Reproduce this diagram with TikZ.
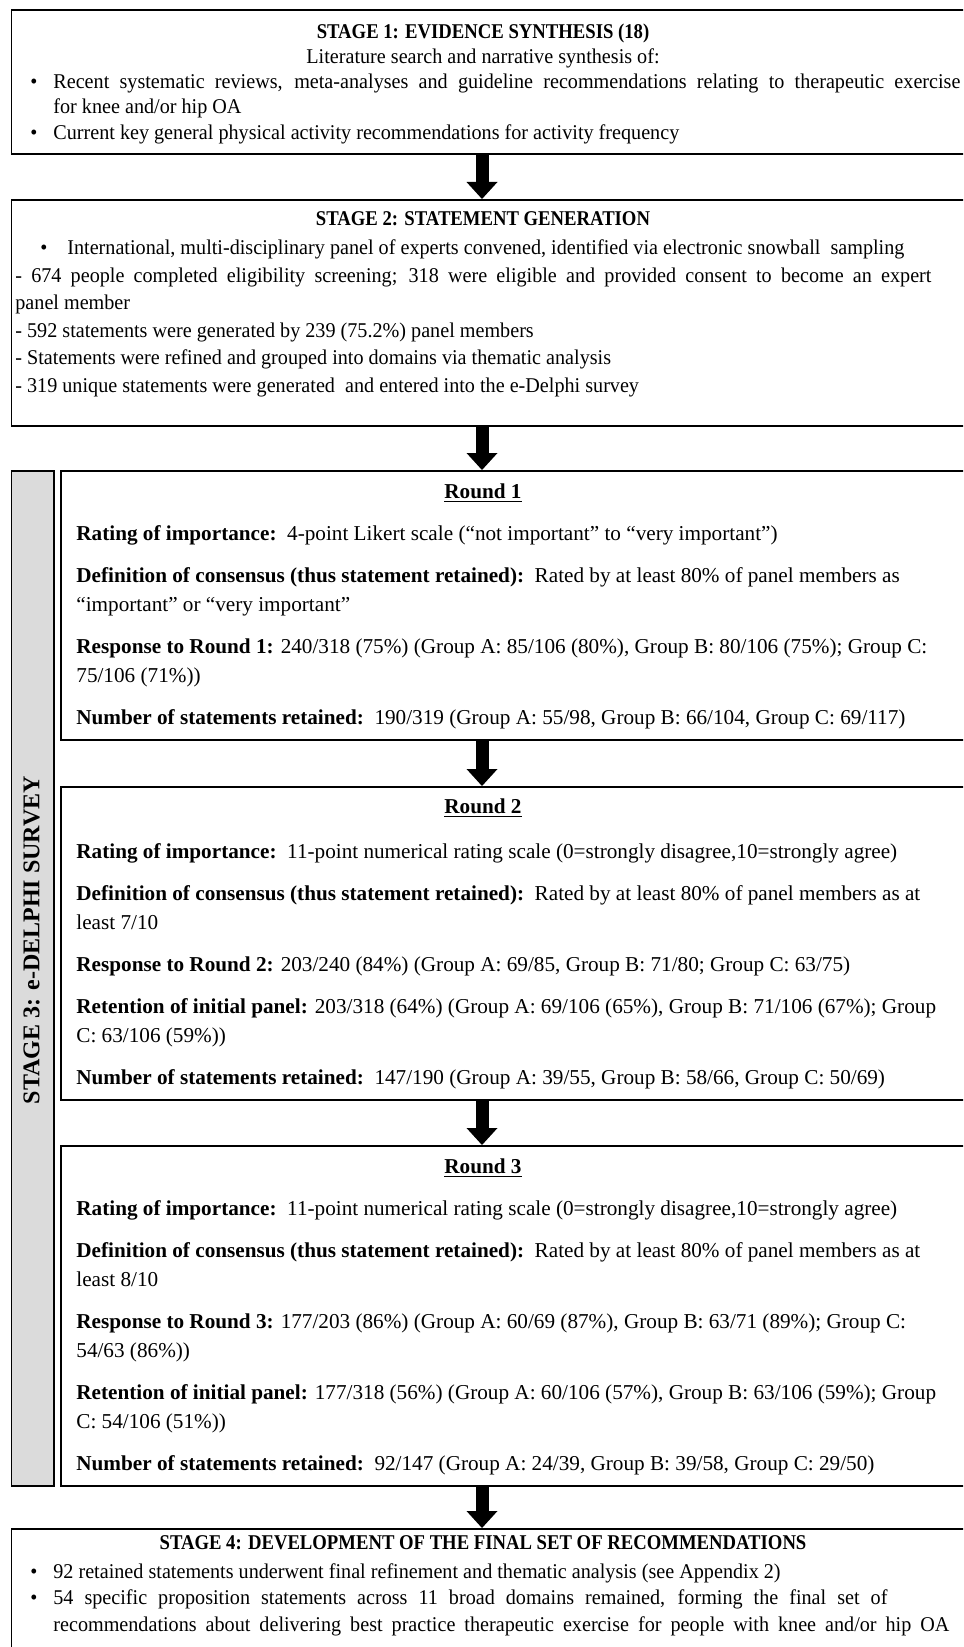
\documentclass[tikz,border=0pt]{standalone}
\usepackage{fontspec}
\setmainfont{Liberation Serif}
\newfontfamily\stagefont[FakeStretch=0.96]{Liberation Serif}
\newfontfamily\headfont[FakeStretch=0.89]{Liberation Serif}
\usetikzlibrary{arrows.meta}
\definecolor{barfill}{gray}{0.86}
\newcommand{\bul}{\makebox[11.5pt][l]{\textbullet}}

\begin{document}
\begin{tikzpicture}[x=0.5pt,y=-0.5pt]
	\tikzstyle{frame} = [draw,line width=0.8pt,anchor=north west,inner sep=0pt]
	\tikzstyle{txt} = [inner sep=0pt,anchor=base,font=\fontsize{10.5}{12.75}\stagefont]
	\tikzstyle{heading} = [inner sep=0pt,anchor=base,font=\fontsize{10.5}{12.75}\headfont\bfseries]
	\tikzstyle{para} = [inner sep=0pt,align=left,anchor=base west,font=\fontsize{10.5}{12.75}\stagefont]
	\tikzstyle{roundtitle} = [inner sep=0pt,anchor=base,font=\fontsize{10.6}{12.75}\selectfont\bfseries]
	\tikzstyle{roundpara} = [para,font=\fontsize{10.6}{14.5}\selectfont]
	\tikzstyle{blockarrow} = [line width=6.5pt,-{Triangle[length=8.5pt,width=15.5pt,line width=0pt]}]
	
	\useasboundingbox (0,0) rectangle (963,1647);
	\clip (0,0) rectangle (963,1647);
	
	% boxes
	\node[frame,minimum width=479pt,minimum height=72pt] (s1) at (10.7,9) {};
	\node[frame,minimum width=479pt,minimum height=113pt] (s2) at (10.7,199) {};
	\node[frame,fill=barfill,minimum width=21.15pt,minimum height=507.5pt] (bar) at (10.7,470) {};
	\node[frame,minimum width=454pt,minimum height=134.5pt] (r1) at (60,470) {};
	\node[frame,minimum width=454pt,minimum height=156.5pt] (r2) at (60,786) {};
	\node[frame,minimum width=454pt,minimum height=170pt] (r3) at (60,1145) {};
	\node[frame,minimum width=479pt,minimum height=70pt] (s4) at (10.7,1528) {};
	
	% arrows
	\coordinate (ax) at (482,0);
	\draw[blockarrow] (s1.south -| ax) -- (s2.north -| ax);
	\draw[blockarrow] (s2.south -| ax) -- (r1.north -| ax);
	\draw[blockarrow] (r1.south -| ax) -- (r2.north -| ax);
	\draw[blockarrow] (r2.south -| ax) -- (r3.north -| ax);
	\draw[blockarrow] (r3.south -| ax) -- (s4.north -| ax);
	
	% stage 1
	\node[heading] (s1title) at (483,38.5) {STAGE 1: EVIDENCE SYNTHESIS (18)};
	\node[txt] (s1sub) at (483,63.5) {Literature search and narrative synthesis of:};
	\node[para] (s1list) at (30,139.5) {\bul\makebox[453.5pt][s]{Recent systematic reviews, meta-analyses and guideline recommendations relating to therapeutic exercise}\\
		\hspace*{11.5pt}for knee and/or hip OA\\
		\bul Current key general physical activity recommendations for activity frequency};
	
	% stage 2
	\node[heading] (s2title) at (483,225.5) {STAGE 2: STATEMENT GENERATION};
	\node[para,font=\fontsize{10.5}{13.8}\stagefont] (s2list) at (15,392.5) {\hspace*{12.5pt}\makebox[13.5pt][l]{\textbullet}International, multi-disciplinary panel of experts convened, identified via electronic snowball\ \ sampling\\
		\makebox[458pt][s]{- 674 people completed eligibility screening; 318 were eligible and provided consent to become an expert}\\
		panel member\\
		- 592 statements were generated by 239 (75.2\%) panel members\\
		- Statements were refined and grouped into domains via thematic analysis\\
		- 319 unique statements were generated\ \ and entered into the e-Delphi survey};
	
	% stage 3
	\node[inner sep=0pt,rotate=90,font=\fontsize{12}{14}\selectfont\bfseries] (s3label) at (31.5,940) {STAGE 3: e-DELPHI SURVEY};
	
	\node[roundtitle] (r1title) at (483,498.5) {\underline{Round 1}};
	\node[roundpara] (r1text) at (76,724.5) {\textbf{Rating of importance:}\ \ 4-point Likert scale (“not important” to “very important”)\\[6.5pt]
		\textbf{Definition of consensus (thus statement retained):}\ \ Rated by at least 80\% of panel members as\\
		“important” or “very important”\\[6.5pt]
		\textbf{Response to Round 1:} 240/318 (75\%) (Group A: 85/106 (80\%), Group B: 80/106 (75\%); Group C:\\
		75/106 (71\%))\\[6.5pt]
		\textbf{Number of statements retained:}\ \ 190/319 (Group A: 55/98, Group B: 66/104, Group C: 69/117)};
	
	\node[roundtitle] (r2title) at (483,813.5) {\underline{Round 2}};
	\node[roundpara] (r2text) at (76,1084.5) {\textbf{Rating of importance:}\ \ 11-point numerical rating scale (0=strongly disagree,10=strongly agree)\\[6.5pt]
		\textbf{Definition of consensus (thus statement retained):}\ \ Rated by at least 80\% of panel members as at\\
		least 7/10\\[6.5pt]
		\textbf{Response to Round 2:} 203/240 (84\%) (Group A: 69/85, Group B: 71/80; Group C: 63/75)\\[6.5pt]
		\textbf{Retention of initial panel:} 203/318 (64\%) (Group A: 69/106 (65\%), Group B: 71/106 (67\%); Group\\
		C: 63/106 (59\%))\\[6.5pt]
		\textbf{Number of statements retained:}\ \ 147/190 (Group A: 39/55, Group B: 58/66, Group C: 50/69)};
	
	\node[roundtitle] (r3title) at (483,1173.5) {\underline{Round 3}};
	\node[roundpara] (r3text) at (76,1470) {\textbf{Rating of importance:}\ \ 11-point numerical rating scale (0=strongly disagree,10=strongly agree)\\[6.5pt]
		\textbf{Definition of consensus (thus statement retained):}\ \ Rated by at least 80\% of panel members as at\\
		least 8/10\\[6.5pt]
		\textbf{Response to Round 3:} 177/203 (86\%) (Group A: 60/69 (87\%), Group B: 63/71 (89\%); Group C:\\
		54/63 (86\%))\\[6.5pt]
		\textbf{Retention of initial panel:} 177/318 (56\%) (Group A: 60/106 (57\%), Group B: 63/106 (59\%); Group\\
		C: 54/106 (51\%))\\[6.5pt]
		\textbf{Number of statements retained:}\ \ 92/147 (Group A: 24/39, Group B: 39/58, Group C: 29/50)};
	
	% stage 4
	\node[heading] (s4title) at (483,1549) {STAGE 4: DEVELOPMENT OF THE FINAL SET OF RECOMMENDATIONS};
	\node[para,font=\fontsize{10.5}{13.25}\stagefont] (s4list) at (30,1631) {\bul 92 retained statements underwent final refinement and thematic analysis (see Appendix 2)\\
		\bul\makebox[417pt][s]{54 specific proposition statements across 11 broad domains remained, forming the final set of}\\
		\hspace*{11.5pt}\makebox[448pt][s]{recommendations about delivering best practice therapeutic exercise for people with knee and/or hip OA}};
\end{tikzpicture}
\end{document}
